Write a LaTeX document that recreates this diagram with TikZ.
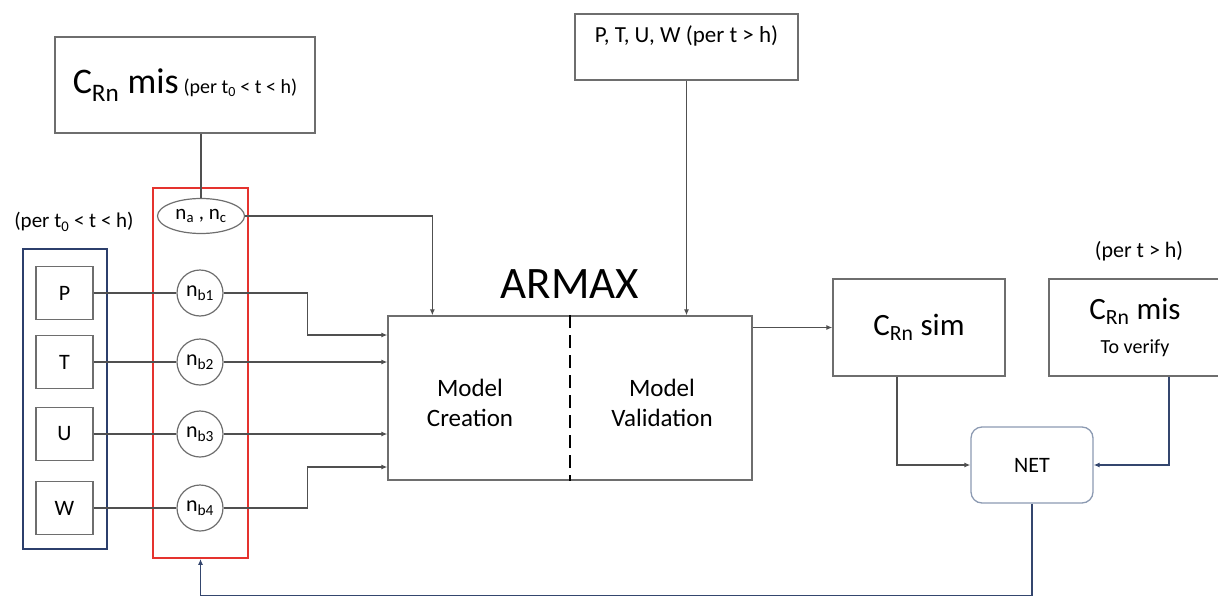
\documentclass[tikz,border=0pt]{standalone}
\usepackage{fontspec}
\setmainfont{Carlito}
\usetikzlibrary{arrows.meta,positioning,shapes.geometric}
\definecolor{bordo}{HTML}{6E6E6E}
\definecolor{tratto}{HTML}{505050}
\definecolor{bluscuro}{HTML}{34466E}
\definecolor{blubordo}{HTML}{2C3F6C}
\definecolor{rossobordo}{HTML}{E5332E}
\definecolor{bordonet}{HTML}{8C9AB2}
\tikzset{
  scatola/.style={rectangle,draw=bordo,line width=1.3pt,inner sep=0pt,align=center},
  lettera/.style={scatola,minimum width=57pt,minimum height=53pt,font=\fontsize{22}{26}\selectfont},
  cerchio/.style={circle,draw=bordo,line width=1.2pt,minimum size=46pt,inner sep=0pt,font=\fontsize{22}{26}\selectfont},
  uscita/.style={scatola,minimum width=172pt,minimum height=97pt},
  linea/.style={line width=1.2pt,draw=tratto},
  freccia/.style={linea,-{Latex[length=6pt,width=5pt]}},
  frecciab/.style={freccia,draw=bluscuro},
  etichetta/.style={inner sep=0pt,font=\fontsize{20}{24}\selectfont},
}
\begin{document}
\begin{tikzpicture}[x=1pt,y=-1pt]
\useasboundingbox (0,0) rectangle (1218,597);
% dati misurati
\node[scatola,minimum width=260pt,minimum height=96pt] (crmis) at (185,85)
  {{\fontsize{36}{40}\selectfont C\textsubscript{Rn} mis\hspace{5pt}}{\fontsize{20}{24}\selectfont(per t\textsubscript{0} < t < h)}};
\node[scatola,minimum width=223pt,minimum height=66pt,text height=28pt,text depth=38pt,
  font=\fontsize{23}{26}\selectfont] (ptuw) at (686.5,47) {P, T, U, W (per t > h)};
% variabili di ingresso
\node[rectangle,draw=blubordo,line width=1.5pt,minimum width=84pt,minimum height=300pt] (blu) at (65,399) {};
\node[etichetta,font=\fontsize{21}{24}\selectfont] (perblu) at (74,222) {(per t\textsubscript{0} < t < h)};
\node[lettera] (p) at (64.5,293) {P};
\node[lettera] (t) at (64.5,362) {T};
\node[lettera] (u) at (64.5,434) {U};
\node[lettera] (w) at (64.5,508) {W};
% ordini del modello
\node[rectangle,draw=rossobordo,line width=1.8pt,minimum width=95pt,minimum height=370pt] (rosso) at (200.5,373) {};
\node[ellipse,draw=bordo,line width=1.2pt,minimum width=87pt,minimum height=35pt,inner sep=0pt,
  font=\fontsize{21}{24}\selectfont] (na) at (201,216) {n\textsubscript{a} , n\textsubscript{c}};
\node[cerchio] (nb1) at (200,293) {n\textsubscript{b1}};
\node[cerchio] (nb2) at (200,362) {n\textsubscript{b2}};
\node[cerchio] (nb3) at (200,434) {n\textsubscript{b3}};
\node[cerchio] (nb4) at (200,508) {n\textsubscript{b4}};
% blocco ARMAX
\node[scatola,minimum width=364pt,minimum height=164pt] (armax) at (570,398) {};
\node[inner sep=0pt,above=17pt of armax,font=\fontsize{45}{50}\selectfont] (titolo) {ARMAX};
\draw[line width=2.6pt,dash pattern=on 13pt off 7pt] (armax.north) -- (armax.south);
\node[font=\fontsize{25}{30}\selectfont,align=center] (crea) at (470,403) {Model\\Creation};
\node[font=\fontsize{25}{30}\selectfont,align=center] (valida) at (662,403) {Model\\Validation};
% uscite
\node[uscita,font=\fontsize{31}{34}\selectfont] (crsim) at (919,327.5) {C\textsubscript{Rn} sim};
\node[uscita,font=\fontsize{31}{34}\selectfont] (crver) at (1135,327.5)
  {C\textsubscript{Rn} mis\\\fontsize{20}{34}\selectfont To verify};
\node[etichetta,font=\fontsize{22}{26}\selectfont] (perver) at (1139,251) {(per t > h)};
\node[scatola,draw=bordonet,rounded corners=11pt,minimum width=122pt,minimum height=76pt,
  font=\fontsize{22}{26}\selectfont] (net) at (1032,465) {NET};
% collegamenti
\draw[linea] (crmis.south -| na) -- (na.north);
\draw[linea] (p) -- (nb1);
\draw[linea] (t) -- (nb2);
\draw[linea] (u) -- (nb3);
\draw[linea] (w) -- (nb4);
\draw[freccia] (na.east) -| ([xshift=45pt]armax.north west);
\draw[freccia] (nb1.east) -- ++(84,0) |- ([yshift=63pt]armax.west);
\draw[freccia] (nb2) -- (nb2 -| armax.west);
\draw[freccia] (nb3) -- (nb3 -| armax.west);
\draw[freccia] (nb4.east) -- ++(84,0) |- ([yshift=-69pt]armax.west);
\draw[freccia] (ptuw) -- (ptuw |- armax.north);
\draw[freccia] (armax.east |- crsim) -- (crsim);
\draw[freccia] ([xshift=-22pt]crsim.south) |- (net.west);
\draw[frecciab] ([xshift=34pt]crver.south) |- (net.east);
\draw[frecciab] (net.south) -- ++(0,92) -| (rosso.south);
\end{tikzpicture}
\end{document}
